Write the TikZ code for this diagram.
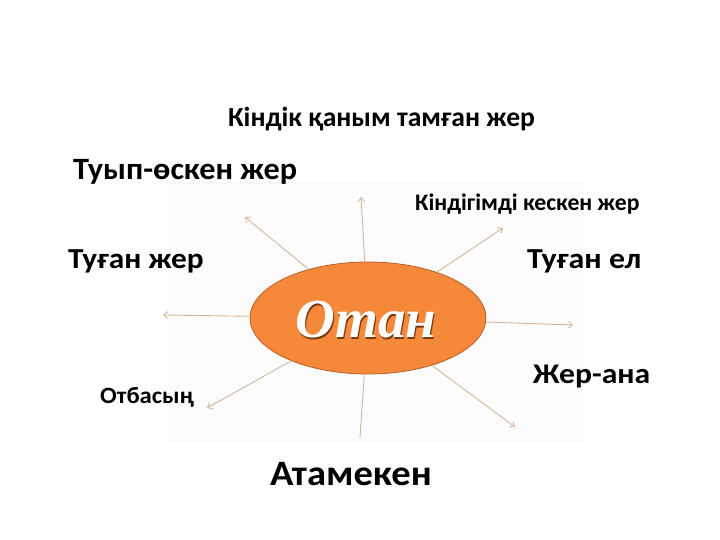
\documentclass[tikz,border=0pt]{standalone}
\usepackage{fontspec}
\setmainfont{Carlito}
\newfontfamily\otanfont{Liberation Serif}
\usetikzlibrary{arrows.meta,shapes.geometric}
\definecolor{arrowc}{HTML}{D2B69A}
\definecolor{orangefill}{HTML}{F6883A}
\definecolor{orangeedge}{HTML}{B65F2A}
\definecolor{shadowc}{HTML}{7A3A10}
\tikzset{
  arr/.style={draw=arrowc, line width=0.9pt, -{Straight Barb[length=4pt,width=7pt]}},
  plainline/.style={draw=arrowc, line width=0.9pt},
  lbl/.style={anchor=base west, inner sep=0pt},
}
\begin{document}
\begin{tikzpicture}[x=1pt,y=-1pt]
\useasboundingbox (0,0) rectangle (720,540);
% faint picture frame
\node (frame) [draw=black!3, fill=black!1, line width=2pt, minimum width=412pt, minimum height=258pt, inner sep=0pt] at (376,312) {};
% central ellipse
\node (O) [ellipse, draw=orangeedge, line width=0.8pt, fill=orangefill, minimum width=236pt, minimum height=112pt, inner sep=0pt] at (368,318) {};
\coordinate (tup) at (361,197);
\coordinate (tul) at (245,217);
\coordinate (tur) at (503,228);
\coordinate (tl) at (163,315);
\coordinate (tr) at (573,325);
\coordinate (tll) at (207,408);
\coordinate (tlr) at (515,427);
\coordinate (td) at (360,438);
\draw[arr] (O) -- (tup);
\draw[arr] (O) -- (tul);
\draw[arr] (O) -- (tur);
\draw[arr] (O) -- (tl);
\draw[arr] (O) -- (tr);
\draw[arr] (O) -- (tll);
\draw[arr] (O) -- (tlr);
\draw[plainline] (O) -- (td);
% Отан text
\node (otanS) [inner sep=0pt, text=shadowc, font=\otanfont\bfseries\itshape\fontsize{55}{55}\selectfont] at (367.2,321.2) {Отан};
\node (otan) [inner sep=0pt, text=white, font=\otanfont\bfseries\itshape\fontsize{55}{55}\selectfont] at (366,320) {Отан};
% labels
\node (l1) [lbl, font=\bfseries\fontsize{27.6}{27.6}\selectfont] at (228,127) {Кіндік қаным тамған жер};
\node (l2) [lbl, xscale=1.04, font=\bfseries\fontsize{31}{31}\selectfont] at (73,180) {Туып-өскен жер};
\node (l3) [lbl, font=\bfseries\fontsize{23.7}{23.7}\selectfont] at (415,211) {Кіндігімді кескен жер};
\node (l4) [lbl, xscale=1.08, font=\bfseries\fontsize{29}{29}\selectfont] at (68,268) {Туған жер};
\node (l5) [lbl, xscale=1.1, font=\bfseries\fontsize{29}{29}\selectfont] at (527,268) {Туған ел};
\node (l6) [lbl, xscale=1.11, font=\bfseries\fontsize{28.5}{28.5}\selectfont] at (533,383) {Жер-ана};
\node (l7) [lbl, xscale=1.06, font=\bfseries\fontsize{23.3}{23.3}\selectfont] at (100,403) {Отбасың};
\node (l8) [lbl, xscale=1.08, font=\bfseries\fontsize{35.7}{35.7}\selectfont] at (270,485) {Атамекен};
\end{tikzpicture}
\end{document}
